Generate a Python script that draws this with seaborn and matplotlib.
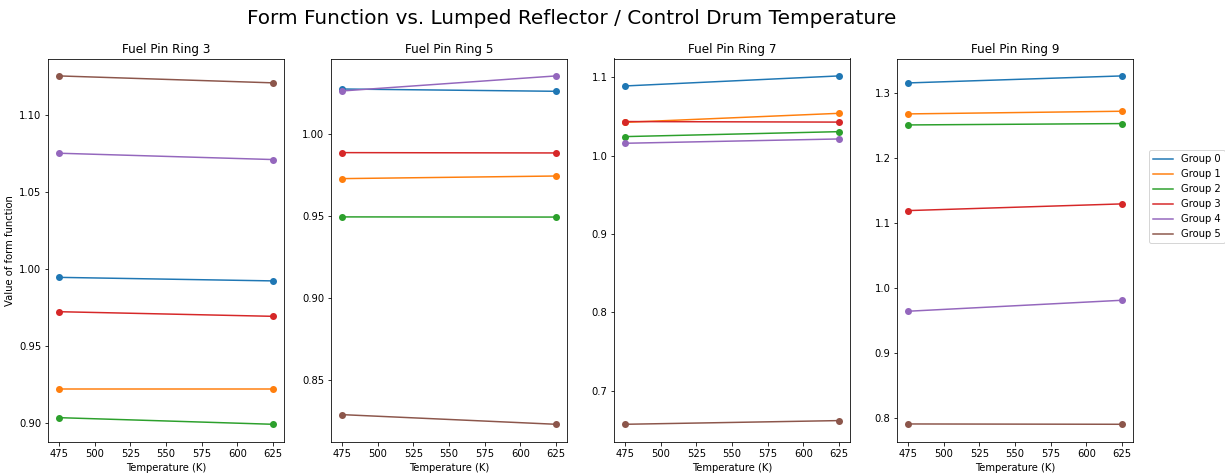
import matplotlib
matplotlib.use("Agg")
import matplotlib.pyplot as plt
from matplotlib.lines import Line2D
import seaborn as sns
import pandas as pd

# Temperatures of the lumped reflector / control drum (K)
temperatures = [475, 625]
groups = ["Group 0", "Group 1", "Group 2", "Group 3", "Group 4", "Group 5"]
rings = ["Fuel Pin Ring 3", "Fuel Pin Ring 5", "Fuel Pin Ring 7", "Fuel Pin Ring 9"]

# Form function per energy group at each temperature: [value @ 475 K, value @ 625 K]
ring3 = [
    [0.9943, 0.9920],
    [0.9216, 0.9216],
    [0.9032, 0.8989],
    [0.9720, 0.9690],
    [1.0749, 1.0708],
    [1.1251, 1.1206],
]
ring5 = [
    [1.0277, 1.0263],
    [0.9729, 0.9745],
    [0.9495, 0.9494],
    [0.9888, 0.9886],
    [1.0265, 1.0357],
    [0.8286, 0.8227],
]
ring7 = [
    [1.0889, 1.1017],
    [1.0425, 1.0540],
    [1.0243, 1.0306],
    [1.0435, 1.0428],
    [1.0158, 1.0213],
    [0.6574, 0.6621],
]
ring9 = [
    [1.3154, 1.3262],
    [1.2677, 1.2718],
    [1.2507, 1.2528],
    [1.1188, 1.1291],
    [0.9638, 0.9807],
    [0.7902, 0.7897],
]
ring_values = [ring3, ring5, ring7, ring9]

palette = sns.color_palette("tab10", len(groups))

fig, axes = plt.subplots(1, 4, figsize=(1225 / 72, 475 / 72), dpi=72)
fig.subplots_adjust(left=48.3 / 1225, right=1132.7 / 1225,
                    bottom=1 - 441.7 / 475, top=1 - 58.5 / 475, wspace=0.203)

for ax, ring, values in zip(axes, rings, ring_values):
    rows = []
    for g, vals in zip(groups, values):
        for t, v in zip(temperatures, vals):
            rows.append({"Temperature": t, "Value": v, "Group": g})
    df = pd.DataFrame(rows)
    sns.lineplot(data=df, x="Temperature", y="Value", hue="Group",
                 hue_order=groups, palette=palette, marker="o",
                 markersize=7, markeredgewidth=0, linewidth=1.5,
                 legend=False, ax=ax)
    ax.set_title(ring, fontsize=12)
    ax.set_xlabel("Temperature (K)", fontsize=10)
    ax.set_ylabel("")
    ax.set_xticks([475, 500, 525, 550, 575, 600, 625])
    ax.tick_params(labelsize=10)

axes[0].set_ylabel("Value of form function", fontsize=10)

handles = [Line2D([0], [0], color=c, linewidth=1.5) for c in palette]
fig.legend(handles, groups, loc="upper left",
           bbox_to_anchor=(1149 / 1225, 1 - 150 / 475),
           borderaxespad=0, fontsize=10)

fig.suptitle("Form Function vs. Lumped Reflector / Control Drum Temperature",
             fontsize=20, x=572 / 1225, y=1 - 19 / 475, va="center")

fig.savefig("out.png", dpi=72)
